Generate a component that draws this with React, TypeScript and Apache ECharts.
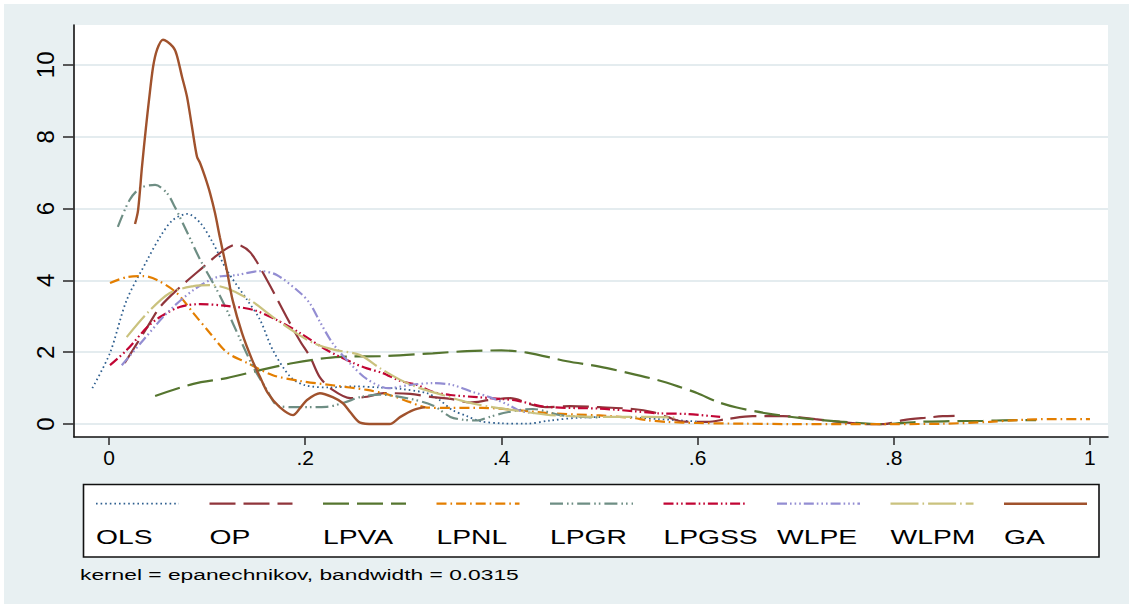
import React, { useEffect, useRef } from "react";
import * as echarts from "echarts";

// ---------- data ----------
const seriesNames = ["OLS", "OP", "LPVA", "LPNL", "LPGR", "LPGSS", "WLPE", "WLPM", "GA"];

const xTickValues = [0, 0.2, 0.4, 0.6, 0.8, 1];
const xTickLabels = ["0", ".2", ".4", ".6", ".8", "1"];
const yTickValues = [0, 2, 4, 6, 8, 10];
const yTickLabels = ["0", "2", "4", "6", "8", "10"];

const olsData = [
  [-0.017, 1.0], [0.001, 1.98], [0.018, 3.45], [0.039, 4.57], [0.052, 5.21], [0.065, 5.68],
  [0.08, 5.85], [0.093, 5.6], [0.106, 5.04], [0.12, 4.29], [0.141, 3.45], [0.154, 2.9],
  [0.167, 2.06], [0.185, 1.31], [0.2, 1.08], [0.225, 1.02], [0.25, 1.05], [0.275, 1.02],
  [0.297, 0.98], [0.324, 0.86], [0.337, 0.67], [0.35, 0.39], [0.365, 0.22], [0.378, 0.08],
  [0.4, 0.02], [0.425, 0.01], [0.45, 0.1], [0.48, 0.18], [0.52, 0.2], [0.56, 0.14], [0.6, 0.07],
];
const opData = [
  [0.016, 1.7], [0.039, 2.7], [0.052, 3.26], [0.069, 3.73], [0.096, 4.37], [0.113, 4.76],
  [0.13, 5.0], [0.144, 4.78], [0.161, 4.01], [0.181, 2.98], [0.195, 2.3], [0.205, 1.87],
  [0.215, 1.3], [0.228, 0.95], [0.246, 0.72], [0.263, 0.76], [0.28, 0.86], [0.307, 0.84],
  [0.33, 0.75], [0.348, 0.7], [0.368, 0.6], [0.388, 0.67], [0.409, 0.72], [0.432, 0.53],
  [0.445, 0.47], [0.47, 0.5], [0.5, 0.47], [0.534, 0.42], [0.555, 0.33], [0.569, 0.2],
  [0.585, 0.07], [0.61, 0.06], [0.63, 0.14], [0.656, 0.22], [0.687, 0.22], [0.72, 0.14],
  [0.745, 0.06], [0.773, 0.0], [0.79, 0.0], [0.81, 0.11], [0.834, 0.18], [0.85, 0.22], [0.862, 0.23],
];
const lpvaData = [
  [0.047, 0.78], [0.086, 1.12], [0.12, 1.28], [0.154, 1.5], [0.188, 1.7], [0.222, 1.84],
  [0.246, 1.88], [0.279, 1.89], [0.33, 1.97], [0.365, 2.03], [0.4, 2.05], [0.426, 1.99],
  [0.467, 1.75], [0.5, 1.6], [0.53, 1.42], [0.56, 1.22], [0.58, 1.05], [0.6, 0.86],
  [0.62, 0.62], [0.64, 0.46], [0.67, 0.3], [0.704, 0.17], [0.745, 0.07], [0.79, 0.0],
  [0.824, 0.06], [0.857, 0.08], [0.891, 0.09], [0.926, 0.11], [0.945, 0.11],
];
const lpnlData = [
  [0.001, 3.93], [0.018, 4.09], [0.035, 4.12], [0.049, 4.01], [0.069, 3.65], [0.086, 3.09],
  [0.103, 2.53], [0.12, 2.0], [0.141, 1.7], [0.167, 1.36], [0.195, 1.2], [0.228, 1.08],
  [0.263, 0.95], [0.286, 0.81], [0.307, 0.61], [0.324, 0.46], [0.348, 0.45], [0.381, 0.45],
  [0.416, 0.39], [0.45, 0.3], [0.5, 0.24], [0.534, 0.17], [0.548, 0.11], [0.569, 0.06],
  [0.6, 0.03], [0.65, 0.01], [0.7, 0.0], [0.75, 0.0], [0.8, 0.0], [0.85, 0.01], [0.898, 0.06],
  [0.926, 0.11], [0.96, 0.14], [1.0, 0.14],
];
const lpgrData = [
  [0.009, 5.49], [0.021, 6.24], [0.032, 6.57], [0.047, 6.66], [0.059, 6.43], [0.067, 6.05],
  [0.08, 5.32], [0.093, 4.57], [0.11, 3.73], [0.12, 3.18], [0.134, 2.34], [0.147, 1.59],
  [0.161, 0.95], [0.171, 0.53], [0.188, 0.47], [0.222, 0.48], [0.24, 0.6], [0.256, 0.75],
  [0.276, 0.82], [0.304, 0.72], [0.33, 0.52], [0.348, 0.2], [0.361, 0.12], [0.375, 0.1],
  [0.388, 0.2], [0.406, 0.33], [0.432, 0.42], [0.46, 0.25], [0.5, 0.18],
];
const lpgssData = [
  [0.001, 1.64], [0.018, 2.06], [0.039, 2.7], [0.052, 2.98], [0.072, 3.26], [0.093, 3.34],
  [0.12, 3.29], [0.147, 3.18], [0.171, 2.9], [0.195, 2.53], [0.222, 2.06], [0.249, 1.7],
  [0.263, 1.55], [0.279, 1.42], [0.297, 1.2], [0.314, 1.09], [0.33, 0.9], [0.348, 0.81],
  [0.375, 0.75], [0.4, 0.7], [0.416, 0.65], [0.446, 0.48], [0.5, 0.43], [0.534, 0.36],
  [0.56, 0.3], [0.589, 0.28], [0.623, 0.2],
];
const wlpeData = [
  [0.013, 1.64], [0.035, 2.34], [0.059, 3.09], [0.086, 3.73], [0.11, 4.09], [0.13, 4.15],
  [0.154, 4.26], [0.171, 4.15], [0.195, 3.65], [0.205, 3.35], [0.215, 2.85], [0.228, 2.25],
  [0.246, 1.68], [0.263, 1.25], [0.285, 1.0], [0.307, 1.09], [0.33, 1.14], [0.35, 1.09],
  [0.371, 0.89], [0.388, 0.75], [0.406, 0.55], [0.42, 0.36], [0.435, 0.3],
];
const wlpmData = [
  [0.018, 2.42], [0.039, 3.09], [0.062, 3.65], [0.086, 3.84], [0.103, 3.87], [0.12, 3.78],
  [0.144, 3.45], [0.167, 2.98], [0.191, 2.53], [0.208, 2.26], [0.228, 2.08], [0.256, 1.92],
  [0.276, 1.56], [0.297, 1.23], [0.317, 1.0], [0.34, 0.81], [0.365, 0.61], [0.391, 0.47],
  [0.412, 0.39], [0.45, 0.25], [0.5, 0.2], [0.55, 0.2], [0.58, 0.18],
];
const gaData = [
  [0.0265, 5.57], [0.0296, 5.95], [0.0336, 7.16], [0.0377, 8.27], [0.0408, 9.03], [0.0449, 9.94],
  [0.0489, 10.42], [0.055, 10.7], [0.0652, 10.5], [0.069, 10.28], [0.0744, 9.67], [0.0795, 9.11],
  [0.0846, 8.27], [0.0897, 7.44], [0.0928, 7.27], [0.0979, 6.88], [0.103, 6.43], [0.108, 5.88],
  [0.113, 5.2], [0.12, 4.3], [0.126, 3.45], [0.1356, 2.53], [0.146, 1.78], [0.154, 1.31],
  [0.162, 0.86], [0.174, 0.47], [0.1876, 0.25], [0.195, 0.45], [0.2018, 0.67], [0.215, 0.86],
  [0.228, 0.75], [0.2385, 0.58], [0.246, 0.33], [0.256, 0.04], [0.27, 0.0], [0.286, 0.0],
  [0.297, 0.2], [0.31, 0.39], [0.322, 0.47],
];

const allData = [olsData, opData, lpvaData, lpnlData, lpgrData, lpgssData, wlpeData, wlpmData, gaData];

const footnote = "kernel = epanechnikov, bandwidth = 0.0315";

// ---------- styles ----------
const colors = ["#2f5f8f", "#90353b", "#55752f", "#e37e00", "#6e8e84", "#c10534", "#938dd2", "#cac27e", "#a0522d"];
const dashes: (number[] | null)[] = [
  [1.6, 3],
  [26, 8],
  [26, 8],
  [10, 4, 1.6, 4],
  [13, 4, 1.6, 3, 1.6, 4],
  [10, 3, 1.6, 3, 1.6, 3],
  [10, 3, 1.6, 3, 1.6, 3, 1.6, 3],
  [28, 4, 1.6, 4],
  null,
];
const widths = [1.8, 2.2, 2.2, 2.2, 2.2, 2.2, 2.2, 2.2, 2.4];

const FONT = '"Liberation Sans", Arial, sans-serif';

export default function App() {
  const ref = useRef<HTMLDivElement>(null);

  useEffect(() => {
    if (!ref.current) return;
    const chart = echarts.init(ref.current, undefined, { renderer: "svg" });

    const series = seriesNames.map((name, i) => ({
      name,
      type: "line",
      data: allData[i],
      showSymbol: false,
      symbol: "none",
      smooth: 0.3,
      lineStyle: {
        color: colors[i],
        width: widths[i],
        type: dashes[i] ? dashes[i] : "solid",
        cap: "butt",
      },
      z: 2 + i,
    }));

    const legendLeft = 83.5;
    const legendTop = 484.5;
    const colStart = 96;
    const colStep = 113.5;
    const graphics: any[] = [
      {
        type: "rect",
        shape: { x: legendLeft, y: legendTop, width: 1099 - legendLeft, height: 557 - legendTop },
        style: { fill: "#fff", stroke: "#111", lineWidth: 1.6 },
        z: 10,
      },
    ];
    seriesNames.forEach((name, i) => {
      const x0 = colStart + i * colStep;
      graphics.push({
        type: "line",
        shape: { x1: x0, y1: 503.7, x2: x0 + 83, y2: 503.7 },
        style: {
          stroke: colors[i],
          lineWidth: widths[i],
          lineDash: dashes[i] ? dashes[i] : null,
        },
        z: 11,
      });
      graphics.push({
        type: "text",
        x: x0,
        y: 537.5,
        scaleX: 1.45,
        style: {
          text: name,
          font: `19.5px ${FONT}`,
          fill: "#000",
          textAlign: "left",
          textVerticalAlign: "middle",
        },
        z: 11,
      });
    });
    graphics.push({
      type: "text",
      x: 80,
      y: 574.6,
      scaleX: 1.47,
      style: {
        text: footnote,
        font: `15.5px ${FONT}`,
        fill: "#000",
        textAlign: "left",
        textVerticalAlign: "middle",
      },
      z: 11,
    });

    const pickLabel = (vals: number[], labels: string[]) => (v: number) => {
      const idx = vals.findIndex((t) => Math.abs(t - v) < 1e-6);
      return idx >= 0 ? labels[idx] : "";
    };

    chart.setOption({
      animation: false,
      backgroundColor: "transparent",
      grid: {
        left: 74,
        top: 25,
        width: 1034,
        height: 412,
        show: true,
        backgroundColor: "#ffffff",
        borderWidth: 0,
        containLabel: false,
        outerBoundsMode: "none",
      },
      xAxis: {
        type: "value",
        min: -0.0357,
        max: 1.0184,
        axisLine: { show: true, onZero: false, lineStyle: { color: "#111", width: 1.6 } },
        axisTick: {
          show: true,
          customValues: xTickValues,
          length: 8,
          lineStyle: { color: "#333", width: 1.6 },
        },
        axisLabel: {
          show: true,
          customValues: xTickValues,
          formatter: pickLabel(xTickValues, xTickLabels),
          fontFamily: FONT,
          fontSize: 21,
          color: "#000",
          margin: 10,
        },
        splitLine: { show: false },
      },
      yAxis: {
        type: "value",
        min: -0.36,
        max: 11.11,
        axisLine: { show: true, onZero: false, lineStyle: { color: "#111", width: 1.6 } },
        axisTick: {
          show: true,
          customValues: yTickValues,
          length: 11,
          lineStyle: { color: "#333", width: 1.6 },
        },
        axisLabel: {
          show: true,
          customValues: yTickValues,
          formatter: pickLabel(yTickValues, yTickLabels),
          rotate: 90,
          fontFamily: FONT,
          fontSize: 24,
          color: "#000",
          margin: 17,
        },
        splitLine: { show: true, lineStyle: { color: "#e4ecef", width: 2 } },
      },
      series,
      graphic: graphics,
    });

    return () => chart.dispose();
  }, []);

  return (
    <div
      ref={ref}
      style={{
        position: "fixed",
        left: 0,
        top: 0,
        width: 1133,
        height: 608,
        background: "#e8f0f2",
        boxShadow: "inset 0 0 0 4px #ffffff",
      }}
    />
  );
}
